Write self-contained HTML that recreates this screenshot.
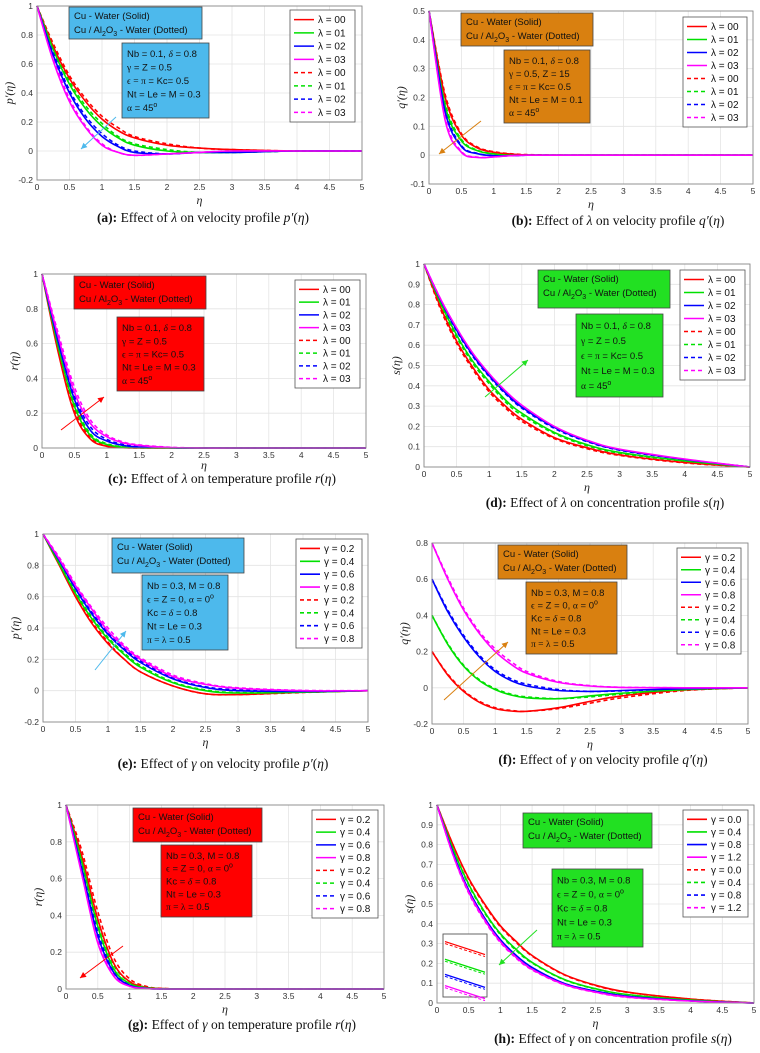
<!DOCTYPE html>
<html><head><meta charset="utf-8"><style>
html,body{margin:0;padding:0;background:#fff;}
svg{display:block;}
.tk{font-family:"Liberation Sans",sans-serif;font-size:8.5px;fill:#333;}
.lg{font-family:"Liberation Sans",sans-serif;font-size:10px;fill:#111;}
.bx{font-family:"Liberation Sans",sans-serif;font-size:9.5px;fill:#111;}
.ax{font-family:"Liberation Serif",serif;font-style:italic;font-size:12px;fill:#222;}
.cap{font-family:"Liberation Serif",serif;font-size:13.5px;fill:#111;}
</style></head><body>
<svg id="fig" width="760" height="1053" viewBox="0 0 760 1053" xmlns="http://www.w3.org/2000/svg"></svg>
<script>
const etaGrid=[0,0.25,0.5,0.75,1,1.25,1.5,2,2.5,3,4,5];
const xTicks=[0,0.5,1,1.5,2,2.5,3,3.5,4,4.5,5];
const lambdaLabels=["λ = 00","λ = 01","λ = 02","λ = 03"];
const gammaLabelsA=["γ = 0.2","γ = 0.4","γ = 0.6","γ = 0.8"];
const gammaLabelsH=["γ = 0.0","γ = 0.4","γ = 0.8","γ = 1.2"];
// panel a
const aSolid=[[1,0.72,0.5,0.34,0.22,0.14,0.09,0.04,0.02,0.01,0,0],[1,0.7,0.46,0.29,0.17,0.09,0.04,0.0,-0.01,-0.01,0,0],[1,0.66,0.4,0.22,0.1,0.03,-0.01,-0.02,-0.01,-0.01,0,0],[1,0.62,0.34,0.16,0.04,-0.01,-0.03,-0.02,-0.01,0,0,0]];
const aDash=[[1,0.74,0.52,0.36,0.24,0.16,0.1,0.05,0.02,0.01,0,0],[1,0.72,0.48,0.31,0.19,0.1,0.05,0.01,-0.01,-0.01,0,0],[1,0.68,0.42,0.24,0.12,0.04,0,-0.02,-0.01,-0.01,0,0],[1,0.64,0.36,0.17,0.05,-0.01,-0.03,-0.02,-0.01,0,0,0]];
// panel b
const bSolid=[[0.5,0.2,0.07,0.025,0.01,0.004,0.001,0,0,0,0,0],[0.5,0.17,0.05,0.015,0.004,0,0,0,0,0,0,0],[0.5,0.15,0.03,0.005,-0.002,-0.002,0,0,0,0,0,0],[0.5,0.12,0.01,-0.008,-0.006,-0.002,0,0,0,0,0,0]];
const bDash=[[0.5,0.21,0.075,0.028,0.012,0.005,0.002,0,0,0,0,0],[0.5,0.18,0.055,0.017,0.005,0.001,0,0,0,0,0,0],[0.5,0.16,0.034,0.006,-0.001,-0.002,0,0,0,0,0,0],[0.5,0.13,0.013,-0.007,-0.006,-0.002,0,0,0,0,0,0]];
// panel c
const cSolid=[[1,0.55,0.2,0.05,0.01,0.002,0,0,0,0,0,0],[1,0.58,0.24,0.07,0.02,0.005,0.001,0,0,0,0,0],[1,0.61,0.28,0.1,0.04,0.015,0.006,0.001,0,0,0,0],[1,0.64,0.32,0.14,0.065,0.03,0.015,0.003,0,0,0,0]];
const cDash=[[1,0.57,0.22,0.06,0.015,0.003,0,0,0,0,0,0],[1,0.6,0.26,0.08,0.025,0.007,0.002,0,0,0,0,0],[1,0.63,0.3,0.12,0.05,0.02,0.008,0.001,0,0,0,0],[1,0.66,0.35,0.16,0.075,0.035,0.018,0.004,0,0,0,0]];
// panel d
const dSolid=[[1,0.79,0.62,0.49,0.38,0.3,0.235,0.145,0.095,0.06,0.022,0],[1,0.81,0.65,0.52,0.42,0.33,0.265,0.17,0.11,0.072,0.03,0],[1,0.825,0.675,0.55,0.45,0.365,0.295,0.195,0.128,0.085,0.037,0],[1,0.83,0.685,0.56,0.46,0.375,0.305,0.2,0.132,0.088,0.039,0]];
const dDash=[[1,0.78,0.61,0.48,0.37,0.29,0.225,0.14,0.09,0.057,0.02,0],[1,0.8,0.64,0.51,0.41,0.32,0.255,0.165,0.105,0.068,0.028,0],[1,0.82,0.67,0.545,0.445,0.36,0.29,0.19,0.125,0.083,0.036,0],[1,0.83,0.68,0.555,0.455,0.37,0.3,0.198,0.13,0.086,0.038,0]];
// panel e
const eSolid=[[1,0.8,0.6,0.43,0.3,0.2,0.12,0.03,-0.02,-0.025,-0.01,0],[1,0.81,0.62,0.46,0.33,0.23,0.15,0.05,0.0,-0.015,-0.01,0],[1,0.83,0.65,0.49,0.36,0.26,0.18,0.075,0.02,0,-0.005,0],[1,0.84,0.67,0.52,0.38,0.28,0.2,0.09,0.04,0.015,0,0]];
const eDash=[[1,0.81,0.61,0.44,0.31,0.2,0.12,0.03,-0.02,-0.025,-0.012,0],[1,0.82,0.63,0.47,0.34,0.24,0.16,0.055,0.005,-0.012,-0.01,0],[1,0.84,0.66,0.5,0.37,0.27,0.19,0.08,0.025,0.005,-0.004,0],[1,0.85,0.68,0.53,0.4,0.29,0.21,0.1,0.045,0.018,0.002,0]];
// panel f
const fSolid=[[0.2,0.07,-0.02,-0.08,-0.115,-0.128,-0.13,-0.11,-0.075,-0.045,-0.012,0],[0.4,0.24,0.12,0.04,-0.01,-0.04,-0.055,-0.06,-0.045,-0.03,-0.01,0],[0.6,0.42,0.28,0.17,0.09,0.04,0.01,-0.015,-0.02,-0.015,-0.005,0],[0.8,0.6,0.43,0.3,0.2,0.13,0.08,0.03,0.01,0.002,0,0]];
const fDash=[[0.2,0.075,-0.015,-0.075,-0.11,-0.125,-0.13,-0.115,-0.085,-0.055,-0.015,0],[0.4,0.245,0.125,0.045,-0.005,-0.035,-0.05,-0.06,-0.05,-0.035,-0.012,0],[0.6,0.43,0.29,0.18,0.1,0.05,0.02,-0.01,-0.02,-0.017,-0.006,0],[0.8,0.61,0.44,0.31,0.215,0.145,0.09,0.035,0.012,0.003,0,0]];
// panel g
const gSolid=[[1,0.72,0.38,0.14,0.04,0.01,0.002,0,0,0,0,0],[1,0.69,0.34,0.11,0.03,0.007,0.001,0,0,0,0,0],[1,0.65,0.29,0.09,0.02,0.004,0,0,0,0,0,0],[1,0.62,0.25,0.07,0.015,0.003,0,0,0,0,0,0]];
const gDash=[[1,0.75,0.42,0.17,0.055,0.015,0.003,0,0,0,0,0],[1,0.71,0.37,0.13,0.04,0.01,0.002,0,0,0,0,0],[1,0.67,0.31,0.1,0.025,0.005,0,0,0,0,0,0],[1,0.64,0.27,0.08,0.018,0.004,0,0,0,0,0,0]];
// panel h
const hSolid=[[1,0.8,0.63,0.5,0.39,0.31,0.24,0.145,0.09,0.055,0.02,0],[1,0.78,0.6,0.46,0.35,0.27,0.205,0.12,0.072,0.043,0.015,0],[1,0.76,0.57,0.43,0.32,0.24,0.18,0.1,0.06,0.034,0.011,0],[1,0.75,0.56,0.42,0.31,0.23,0.17,0.095,0.055,0.03,0.01,0]];
const hDash=[[1,0.8,0.625,0.495,0.385,0.305,0.237,0.143,0.088,0.054,0.02,0],[1,0.78,0.595,0.455,0.345,0.265,0.202,0.118,0.07,0.042,0.015,0],[1,0.76,0.565,0.425,0.315,0.236,0.177,0.098,0.058,0.033,0.011,0],[1,0.75,0.555,0.415,0.305,0.226,0.167,0.093,0.054,0.029,0.01,0]];

const NS="http://www.w3.org/2000/svg";
const svg=document.getElementById('fig');
const COLORS=["#ff0000","#00e000","#0000ff","#ff00ff"];
function mk(tag,attrs,parent){const e=document.createElementNS(NS,tag);for(const k in attrs)e.setAttribute(k,attrs[k]);(parent||svg).appendChild(e);return e;}
function catmull(pts){let d="M"+pts[0][0].toFixed(1)+","+pts[0][1].toFixed(1);
 for(let i=0;i<pts.length-1;i++){const p0=pts[Math.max(0,i-1)],p1=pts[i],p2=pts[i+1],p3=pts[Math.min(pts.length-1,i+2)];
  const c1=[p1[0]+(p2[0]-p0[0])/6,p1[1]+(p2[1]-p0[1])/6],c2=[p2[0]-(p3[0]-p1[0])/6,p2[1]-(p3[1]-p1[1])/6];
  d+="C"+c1[0].toFixed(1)+","+c1[1].toFixed(1)+" "+c2[0].toFixed(1)+","+c2[1].toFixed(1)+" "+p2[0].toFixed(1)+","+p2[1].toFixed(1);}
 return d;}
function fmt(v){return Math.abs(v)<1e-9?"0":(+v.toFixed(2)).toString();}

function panel(P){
 const g=mk('g',{});
 
 
 const xs=v=>P.x0+(v-0)/5*(P.x1-P.x0);
 const ys=v=>P.y1-(v-P.ymin)/(P.ymax-P.ymin)*(P.y1-P.y0);
 mk('rect',{x:P.x0,y:P.y0,width:P.x1-P.x0,height:P.y1-P.y0,fill:'#fff'},g);
 xTicks.forEach(t=>{const l=mk('line',{x1:xs(t),x2:xs(t),y1:P.y0,y2:P.y1,stroke:'#e4e4e4','stroke-width':0.8},g);
  const tx=mk('text',{x:xs(t),y:P.y1+10,'text-anchor':'middle',class:'tk'},g);tx.textContent=fmt(t);});
 P.yticks.forEach(t=>{mk('line',{x1:P.x0,x2:P.x1,y1:ys(t),y2:ys(t),stroke:'#e4e4e4','stroke-width':0.8},g);
  const tx=mk('text',{x:P.x0-4,y:ys(t)+3,'text-anchor':'end',class:'tk'},g);tx.textContent=fmt(t);});
 [[P.dash,true],[P.solid,false]].forEach(([set,dashed])=>{
  set.forEach((vals,i)=>{const pts=etaGrid.map((e,j)=>[xs(e),ys(vals[j])]);
   const p=mk('path',{d:catmull(pts),fill:'none',stroke:COLORS[i],'stroke-width':1.6},g);
   if(dashed)p.setAttribute('stroke-dasharray','4,3');
   
   });
 });
 mk('rect',{x:P.x0,y:P.y0,width:P.x1-P.x0,height:P.y1-P.y0,fill:'none',stroke:'#888','stroke-width':0.9},g);
 const xl=mk('text',{x:(P.x0+P.x1)/2,y:P.y1+(P.etaOff||24),'text-anchor':'middle',class:'ax'},g);xl.textContent='η';
 
 const yc=(P.y0+P.y1)/2,yx=P.x0-24;
 const yl=mk('text',{x:yx,y:yc,'text-anchor':'middle',class:'ax',transform:`rotate(-90 ${yx} ${yc})`},g);yl.textContent=P.ylab;
 
 const [ax1,ay1,ax2,ay2]=P.arrow;const ang=Math.atan2(ay2-ay1,ax2-ax1);
 mk('line',{x1:ax1,y1:ay1,x2:ax2,y2:ay2,stroke:P.arrowColor,'stroke-width':1},g);
 const h=6,w=3;const bx=ax2-h*Math.cos(ang),by=ay2-h*Math.sin(ang);
 const ar=mk('polygon',{points:`${ax2},${ay2} ${bx-w*Math.sin(ang)},${by+w*Math.cos(ang)} ${bx+w*Math.sin(ang)},${by-w*Math.cos(ang)}`,fill:P.arrowColor},g);
 
 const [b1x,b1y,b1w,b1h]=P.box1;
 const r1=mk('rect',{x:b1x,y:b1y,width:b1w,height:b1h,fill:P.boxColor,stroke:'#444','stroke-width':0.8},g);
 
 let t=mk('text',{x:b1x+5,y:b1y+12,class:'bx'},g);t.textContent='Cu - Water (Solid)';
 t=mk('text',{x:b1x+5,y:b1y+26,class:'bx'},g);
 t.innerHTML='Cu / Al<tspan dy="3" font-size="7">2</tspan><tspan dy="-3">O</tspan><tspan dy="3" font-size="7">3</tspan><tspan dy="-3"> - Water (Dotted)</tspan>';
 const [b2x,b2y,b2w,b2h]=P.box2;
 const r2=mk('rect',{x:b2x,y:b2y,width:b2w,height:b2h,fill:P.boxColor,stroke:'#444','stroke-width':0.8},g);
 
 const lh=(b2h-8)/P.params.length;
 P.params.forEach((s,k)=>{const tt=mk('text',{x:b2x+5,y:b2y+4+lh*(k+0.5)+3.5,class:'bx'},g);tt.innerHTML=s;});
 const [lx,ly,lw,lhh]=P.legend;
 const lr=mk('rect',{x:lx,y:ly,width:lw,height:lhh,fill:'#fff',stroke:'#555','stroke-width':0.8},g);
 
 const step=(lhh-6)/8;
 for(let k=0;k<8;k++){const yy=ly+3+step*(k+0.5);const i=k%4;
  const ln=mk('line',{x1:lx+4,x2:lx+24,y1:yy,y2:yy,stroke:COLORS[i],'stroke-width':1.6},g);
  if(k>=4)ln.setAttribute('stroke-dasharray','4,3');
  const tx=mk('text',{x:lx+28,y:yy+3.5,class:'lg'},g);tx.textContent=P.labels[i];
  }
 const c=mk('text',{x:P.capX,y:P.capY,'text-anchor':'middle',class:'cap'},g);c.innerHTML=P.cap;
 
 if(P.inset){const [ix,iy,iw,ih]=P.inset;
  const ir=mk('rect',{x:ix,y:iy,width:iw,height:ih,fill:'#fff',stroke:'#555','stroke-width':0.9},g);
  
  [0.12,0.4,0.64,0.82].forEach((f,i)=>{mk('line',{x1:ix+2,y1:iy+ih*f,x2:ix+iw-2,y2:iy+ih*f+13,stroke:COLORS[i],'stroke-width':1.3},g);
   mk('line',{x1:ix+2,y1:iy+ih*f+2,x2:ix+iw-2,y2:iy+ih*f+15,stroke:COLORS[i],'stroke-width':1,'stroke-dasharray':'3,2'},g);});}
}
const yt=(a,b,s)=>{const r=[];for(let v=a;v<=b+1e-9;v+=s)r.push(+v.toFixed(2));return r;};
const pA=['Nb = 0.1, <tspan font-style="italic" font-family="Liberation Serif">δ</tspan> = 0.8','<tspan font-family="Liberation Serif">γ</tspan> = Z = 0.5','<tspan font-family="Liberation Serif">ϵ = π</tspan> = Kc= 0.5','Nt = Le = M = 0.3','<tspan font-family="Liberation Serif">α</tspan> = 45<tspan dy="-4" font-size="7">o</tspan>'];
const pB=['Nb = 0.1, <tspan font-style="italic" font-family="Liberation Serif">δ</tspan> = 0.8','<tspan font-family="Liberation Serif">γ</tspan> = 0.5, Z = 15','<tspan font-family="Liberation Serif">ϵ = π</tspan> = Kc= 0.5','Nt = Le = M = 0.1','<tspan font-family="Liberation Serif">α</tspan> = 45<tspan dy="-4" font-size="7">o</tspan>'];
const pE=['Nb = 0.3,  M = 0.8','<tspan font-family="Liberation Serif">ϵ</tspan> = Z = 0, <tspan font-family="Liberation Serif">α</tspan> = 0<tspan dy="-4" font-size="7">o</tspan>','Kc = <tspan font-style="italic" font-family="Liberation Serif">δ</tspan> = 0.8','Nt = Le = 0.3','<tspan font-family="Liberation Serif">π = λ</tspan> = 0.5'];
const cap=(l,g,what,fn)=>`<tspan font-weight="bold">(${l}):</tspan> Effect of <tspan font-style="italic">${g}</tspan> on ${what} profile <tspan font-style="italic">${fn}</tspan>(<tspan font-style="italic">η</tspan>)`;
const BLUE="#4db9ec",ORANGE="#d98010",RED="#ff0000",GREEN="#22e022";
const panels=[
 {id:'a',x0:37,x1:362,y0:6,y1:180,ymin:-0.2,ymax:1,yticks:yt(-0.2,1,0.2),ylab:"p′(η)",solid:aSolid,dash:aDash,labels:lambdaLabels,legend:[290,10,65,112],box1:[69,7,133,32],box2:[122,43,87,75],boxColor:BLUE,params:pA,arrow:[116,117,81,149],arrowColor:BLUE,cap:cap('a','λ','velocity',"p′"),capX:203,capY:222},
 {id:'b',x0:429,x1:753,y0:11,y1:184,ymin:-0.1,ymax:0.5,yticks:yt(-0.1,0.5,0.1),ylab:"q′(η)",solid:bSolid,dash:bDash,labels:lambdaLabels,legend:[683,17,64,110],box1:[461,13,132,33],box2:[504,50,86,73],boxColor:ORANGE,params:pB,arrow:[481,121,439,154],arrowColor:ORANGE,cap:cap('b','λ','velocity',"q′"),capX:618,capY:225},
 {id:'c',x0:42,x1:366,y0:274,y1:448,ymin:0,ymax:1,yticks:yt(0,1,0.2),ylab:"r(η)",solid:cSolid,dash:cDash,labels:lambdaLabels,legend:[295,280,65,108],box1:[74,276,132,33],box2:[117,317,87,74],boxColor:RED,params:pA,arrow:[61,430,104,397],arrowColor:RED,cap:cap('c','λ','temperature',"r"),capX:222,capY:483,etaOff:21},
 {id:'d',x0:424,x1:750,y0:264,y1:467,ymin:0,ymax:1,yticks:yt(0,1,0.1),ylab:"s(η)",solid:dSolid,dash:dDash,labels:lambdaLabels,legend:[680,270,65,110],box1:[538,270,132,38],box2:[576,314,87,83],boxColor:GREEN,params:pA,arrow:[485,397,528,360],arrowColor:GREEN,cap:cap('d','λ','concentration',"s"),capX:605,capY:507},
 {id:'e',x0:43,x1:368,y0:534,y1:722,ymin:-0.2,ymax:1,yticks:yt(-0.2,1,0.2),ylab:"p′(η)",solid:eSolid,dash:eDash,labels:gammaLabelsA,legend:[296,539,66,109],box1:[112,538,132,35],box2:[142,575,86,75],boxColor:BLUE,params:pE,arrow:[95,670,126,631],arrowColor:BLUE,cap:cap('e','γ','velocity',"p′"),capX:223,capY:768},
 {id:'f',x0:432,x1:748,y0:543,y1:724,ymin:-0.2,ymax:0.8,yticks:yt(-0.2,0.8,0.2),ylab:"q′(η)",solid:fSolid,dash:fDash,labels:gammaLabelsA,legend:[677,548,64,106],box1:[498,545,129,34],box2:[526,582,91,72],boxColor:ORANGE,params:pE,arrow:[444,700,508,642],arrowColor:ORANGE,cap:cap('f','γ','velocity',"q′"),capX:603,capY:764},
 {id:'g',x0:66,x1:384,y0:805,y1:989,ymin:0,ymax:1,yticks:yt(0,1,0.2),ylab:"r(η)",solid:gSolid,dash:gDash,labels:gammaLabelsA,legend:[312,810,66,108],box1:[133,808,129,34],box2:[161,845,91,72],boxColor:RED,params:pE,arrow:[123,946,80,978],arrowColor:RED,cap:cap('g','γ','temperature',"r"),capX:242,capY:1029},
 {id:'h',x0:437,x1:754,y0:805,y1:1003,ymin:0,ymax:1,yticks:yt(0,1,0.1),ylab:"s(η)",solid:hSolid,dash:hDash,labels:gammaLabelsH,legend:[683,810,65,107],box1:[523,813,129,35],box2:[552,869,91,78],boxColor:GREEN,params:pE,arrow:[537,930,499,965],arrowColor:GREEN,cap:cap('h','γ','concentration',"s"),capX:613,capY:1043,inset:[443,934,44,63]}
];
panels.forEach(panel);
</script>
</body></html>
